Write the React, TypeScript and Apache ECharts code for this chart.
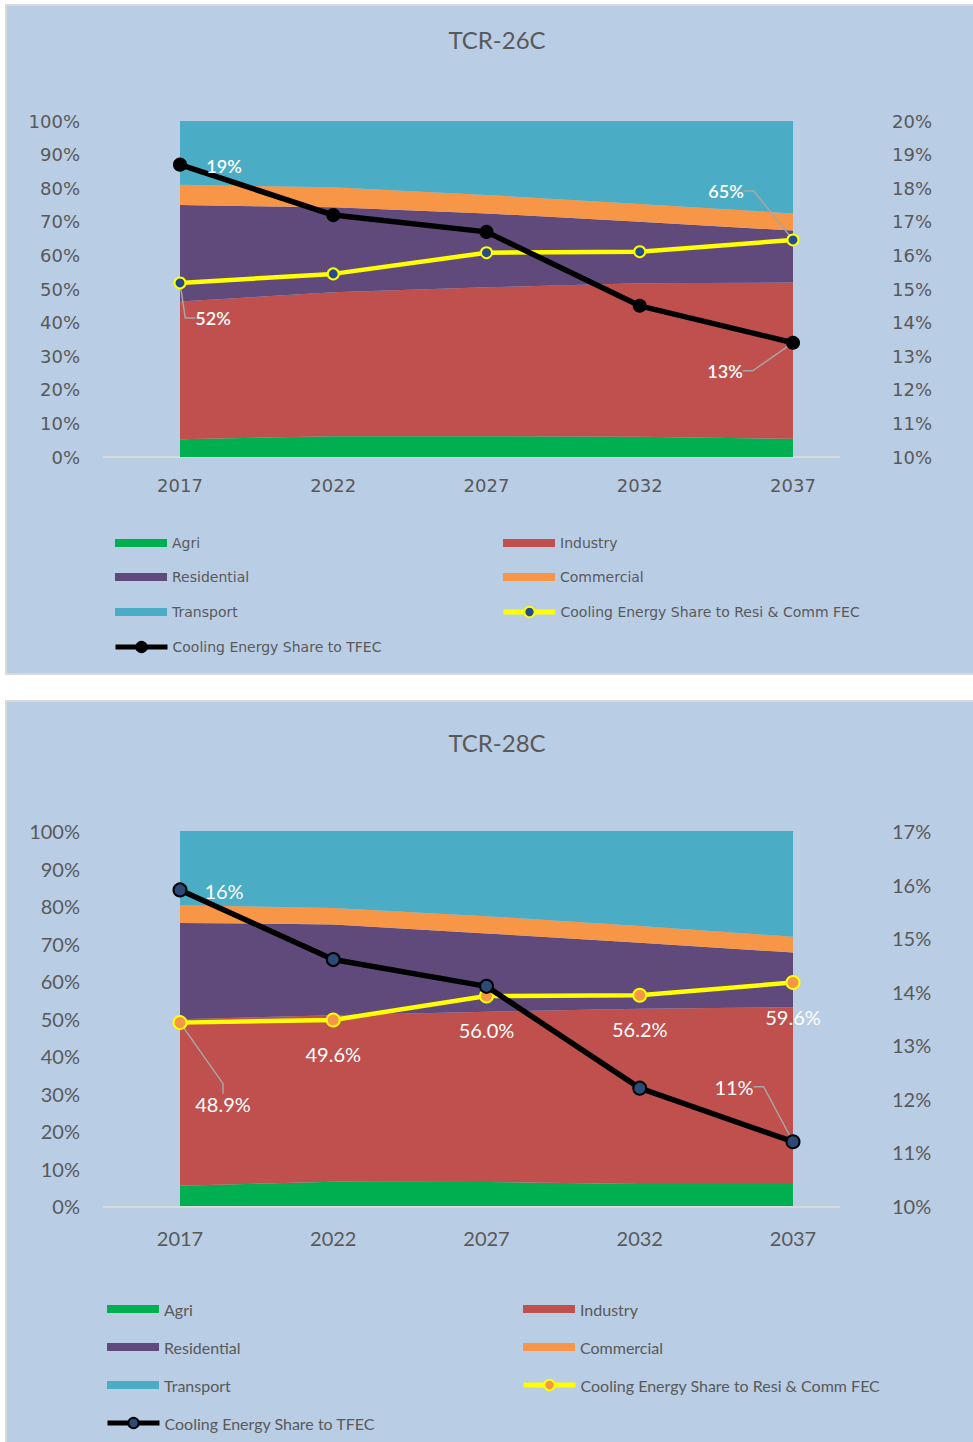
import React, { useEffect, useRef } from 'react';
import * as echarts from 'echarts';

// ---------- data ----------
const years = ['2017', '2022', '2027', '2032', '2037'];
const seriesNames = ['Agri', 'Industry', 'Residential', 'Commercial', 'Transport'];
const lineNameResiComm = 'Cooling Energy Share to Resi & Comm FEC';
const lineNameTfec = 'Cooling Energy Share to TFEC';

// TCR-26C (sector shares, % of total)
const agri26 = [5.3, 6.2, 6.2, 6.0, 5.4];
const industry26 = [41.0, 42.8, 44.3, 45.7, 46.5];
const residential26 = [28.7, 25.3, 22.0, 18.3, 15.5];
const commercial26 = [6.0, 6.0, 5.5, 5.3, 5.1];
const transport26 = [19.0, 19.7, 22.0, 24.7, 27.5];
const resiComm26 = [51.8, 54.5, 60.8, 61.1, 64.6];
const tfec26 = [18.7, 17.2, 16.7, 14.5, 13.4];

// TCR-28C
const agri28 = [5.4, 6.5, 6.4, 5.9, 5.9];
const industry28 = [44.4, 44.4, 45.4, 46.7, 47.1];
const residential28 = [25.7, 24.2, 20.9, 17.6, 14.6];
const commercial28 = [4.7, 4.4, 4.6, 4.5, 4.2];
const transport28 = [19.8, 20.5, 22.7, 25.3, 28.2];
const resiComm28 = [48.9, 49.6, 56.0, 56.2, 59.6];
const tfec28 = [15.9, 14.6, 14.1, 12.2, 11.2];

// axis ticks
const leftAxisMin = 0, leftAxisMax = 100, leftAxisStep = 10;
const rightAxis26Min = 10, rightAxis26Max = 20;
const rightAxis28Min = 10, rightAxis28Max = 17;
const rightAxisStep = 1;

// ---------- styling ----------
const COLORS = ['#00B050', '#C0504D', '#604A7B', '#F79646', '#4BACC6'];
const PANEL_BG = '#B9CDE5';
const TEXT = '#595959';

type LabelSpec = { [idx: number]: { dx: number; dy: number; line?: boolean } };

interface Cfg {
  title: string;
  titleTop: number;
  areas: number[][];
  resiComm: number[];
  tfec: number[];
  rMin: number;
  rMax: number;
  gridTop: number;
  gridHeight: number;
  axisFont: string;
  axisSize: number;
  xMargin: number;
  legendFont: string;
  legendSize: number;
  legendCols: number[];
  legendRows: number[];
  labelFont: string;
  labelSize: number;
  labelWeight: string | number;
  resiFmt: (v: number) => string;
  tfecFmt: (v: number) => string;
  resiLabels: LabelSpec;
  tfecLabels: LabelSpec;
  resiSymbolFill: string;
  resiSymbolSize: number;
  tfecSymbolFill: string;
  tfecSymbolSize: number;
  baselineY: number;
}

function lineData(values: number[], spec: LabelSpec) {
  return values.map((v, i) => {
    const s = spec[i];
    if (!s) return v;
    return {
      value: v,
      label: { show: true },
      labelLine: {
        show: !!s.line,
        length2: 10,
        lineStyle: { color: '#A6A6A6', width: 1.5 },
      },
    };
  });
}

function buildOption(c: Cfg) {
  const areaSeries = seriesNames.map((name, i) => ({
    name,
    type: 'line',
    stack: 'total',
    data: c.areas[i],
    symbol: 'none',
    lineStyle: { width: 0 },
    areaStyle: { color: COLORS[i], opacity: 1 },
    itemStyle: { color: COLORS[i] },
    z: 1,
    silent: true,
  }));

  const labelBase = {
    show: false,
    position: 'inside',
    color: '#FFFFFF',
    fontFamily: c.labelFont,
    fontSize: c.labelSize,
    fontWeight: c.labelWeight,
  };

  const resiSeries = {
    name: lineNameResiComm,
    type: 'line',
    yAxisIndex: 0,
    data: lineData(c.resiComm, c.resiLabels),
    symbol: 'circle',
    symbolSize: c.resiSymbolSize,
    lineStyle: { color: '#FFFF00', width: 4.5 },
    itemStyle: { color: c.resiSymbolFill, borderColor: '#FFFF00', borderWidth: 2 },
    label: { ...labelBase, formatter: (p: any) => c.resiFmt(p.value) },
    labelLayout: (p: any) => {
      const s = c.resiLabels[p.dataIndex];
      return s ? { dx: s.dx, dy: s.dy } : {};
    },
    z: 3,
  };

  const tfecSeries = {
    name: lineNameTfec,
    type: 'line',
    yAxisIndex: 1,
    data: lineData(c.tfec, c.tfecLabels),
    symbol: 'circle',
    symbolSize: c.tfecSymbolSize,
    lineStyle: { color: '#000000', width: 5.5 },
    itemStyle: { color: c.tfecSymbolFill, borderColor: '#000000', borderWidth: 2 },
    label: { ...labelBase, formatter: (p: any) => c.tfecFmt(p.value) },
    labelLayout: (p: any) => {
      const s = c.tfecLabels[p.dataIndex];
      return s ? { dx: s.dx, dy: s.dy } : {};
    },
    z: 4,
  };

  const legendItems = [
    { name: 'Agri', col: 0, row: 0, line: '' },
    { name: 'Industry', col: 1, row: 0, line: '' },
    { name: 'Residential', col: 0, row: 1, line: '' },
    { name: 'Commercial', col: 1, row: 1, line: '' },
    { name: 'Transport', col: 0, row: 2, line: '' },
    { name: lineNameResiComm, col: 1, row: 2, line: '#FFFF00' },
    { name: lineNameTfec, col: 0, row: 3, line: '#000000' },
  ];

  const legends = legendItems.map((it) => ({
    show: true,
    data: [
      it.line
        ? { name: it.name, lineStyle: { width: 5, color: it.line } }
        : { name: it.name, icon: 'rect' },
    ],
    left: c.legendCols[it.col] - (it.line ? 2 : 0),
    top: c.legendRows[it.row] - 9,
    padding: 0,
    itemGap: 0,
    itemWidth: 52,
    itemHeight: it.line ? 13 : 8,
    selectedMode: false,
    textStyle: {
      fontFamily: c.legendFont,
      fontSize: c.legendSize,
      color: TEXT,
      lineHeight: 18,
    },
  }));

  const axisLabelStyle = {
    fontFamily: c.axisFont,
    fontSize: c.axisSize,
    color: TEXT,
  };

  return {
    animation: false,
    backgroundColor: PANEL_BG,
    title: {
      text: c.title,
      left: 485,
      textAlign: 'center',
      top: c.titleTop,
      textStyle: { fontFamily: 'Lato', fontSize: 24, fontWeight: 'normal', color: TEXT },
    },
    legend: legends,
    grid: { left: 173, width: 613, top: c.gridTop, height: c.gridHeight, containLabel: false },
    xAxis: {
      type: 'category',
      data: years,
      boundaryGap: false,
      axisLine: { show: false },
      axisTick: { show: false },
      axisLabel: { ...axisLabelStyle, margin: c.xMargin },
      splitLine: { show: false },
    },
    yAxis: [
      {
        type: 'value',
        min: leftAxisMin,
        max: leftAxisMax,
        interval: leftAxisStep,
        position: 'left',
        axisLine: { show: false },
        axisTick: { show: false },
        splitLine: { show: false },
        axisLabel: { ...axisLabelStyle, margin: 100, formatter: '{value}%' },
      },
      {
        type: 'value',
        min: c.rMin,
        max: c.rMax,
        interval: rightAxisStep,
        position: 'right',
        axisLine: { show: false },
        axisTick: { show: false },
        splitLine: { show: false },
        axisLabel: { ...axisLabelStyle, margin: 99, formatter: '{value}%' },
      },
    ],
    graphic: [
      {
        type: 'line',
        shape: { x1: 96, y1: c.baselineY, x2: 833, y2: c.baselineY },
        style: { stroke: '#D9D9D9', lineWidth: 2 },
        z: 0,
        silent: true,
      },
    ],
    series: [...areaSeries, resiSeries, tfecSeries],
  };
}

const cfg26: Cfg = {
  title: 'TCR-26C',
  titleTop: 16,
  areas: [agri26, industry26, residential26, commercial26, transport26],
  resiComm: resiComm26,
  tfec: tfec26,
  rMin: rightAxis26Min,
  rMax: rightAxis26Max,
  gridTop: 115,
  gridHeight: 336,
  axisFont: 'DejaVu Sans',
  axisSize: 18,
  xMargin: 19,
  legendFont: 'DejaVu Sans',
  legendSize: 14,
  legendCols: [108, 496],
  legendRows: [537, 571, 606, 641],
  labelFont: 'Lato',
  labelSize: 18,
  labelWeight: 600,
  resiFmt: (v) => `${Math.round(v)}%`,
  tfecFmt: (v) => `${Math.round(v)}%`,
  resiLabels: { 0: { dx: 33, dy: 35, line: true }, 4: { dx: -67, dy: -49, line: true } },
  tfecLabels: { 0: { dx: 44, dy: 1 }, 4: { dx: -68, dy: 28, line: true } },
  resiSymbolFill: '#244C8C',
  resiSymbolSize: 11,
  tfecSymbolFill: '#000000',
  tfecSymbolSize: 12,
  baselineY: 451,
};

const cfg28: Cfg = {
  title: 'TCR-28C',
  titleTop: 23,
  areas: [agri28, industry28, residential28, commercial28, transport28],
  resiComm: resiComm28,
  tfec: tfec28,
  rMin: rightAxis28Min,
  rMax: rightAxis28Max,
  gridTop: 129,
  gridHeight: 375,
  axisFont: 'Lato',
  axisSize: 20,
  xMargin: 22,
  legendFont: 'Lato',
  legendSize: 16,
  legendCols: [100, 516],
  legendRows: [607, 645, 683, 721],
  labelFont: 'Lato',
  labelSize: 20,
  labelWeight: 'normal',
  resiFmt: (v) => `${v.toFixed(1)}%`,
  tfecFmt: (v) => `${Math.round(v)}%`,
  resiLabels: {
    0: { dx: 43, dy: 81, line: true },
    1: { dx: 0, dy: 34 },
    2: { dx: 0, dy: 34 },
    3: { dx: 0, dy: 34 },
    4: { dx: 0, dy: 34 },
  },
  tfecLabels: { 0: { dx: 44, dy: 1 }, 4: { dx: -59, dy: -55, line: true } },
  resiSymbolFill: '#F79646',
  resiSymbolSize: 13,
  tfecSymbolFill: '#2B4A78',
  tfecSymbolSize: 13,
  baselineY: 505,
};

function ChartPanel({ cfg, left, top, width, height }: { cfg: Cfg; left: number; top: number; width: number; height: number }) {
  const ref = useRef<HTMLDivElement>(null);
  useEffect(() => {
    if (!ref.current) return;
    const chart = echarts.init(ref.current, null, { renderer: 'svg' });
    chart.setOption(buildOption(cfg) as any);
    return () => chart.dispose();
  }, [cfg]);
  return (
    <div
      style={{
        position: 'absolute',
        left: left - 2,
        top: top - 2,
        width: width + 4,
        height: height + 4,
        border: '2px solid #D9D9D9',
        boxSizing: 'border-box',
        background: PANEL_BG,
      }}
    >
      <div ref={ref} style={{ position: 'absolute', left: 0, top: 0, width, height }} />
    </div>
  );
}

export default function App() {
  return (
    <div
      style={{
        position: 'absolute',
        left: 0,
        top: 0,
        width: 973,
        height: 1442,
        overflow: 'hidden',
        background: '#FFFFFF',
      }}
    >
      <ChartPanel cfg={cfg26} left={7} top={6} width={966} height={667} />
      <ChartPanel cfg={cfg28} left={7} top={702} width={966} height={742} />
    </div>
  );
}
